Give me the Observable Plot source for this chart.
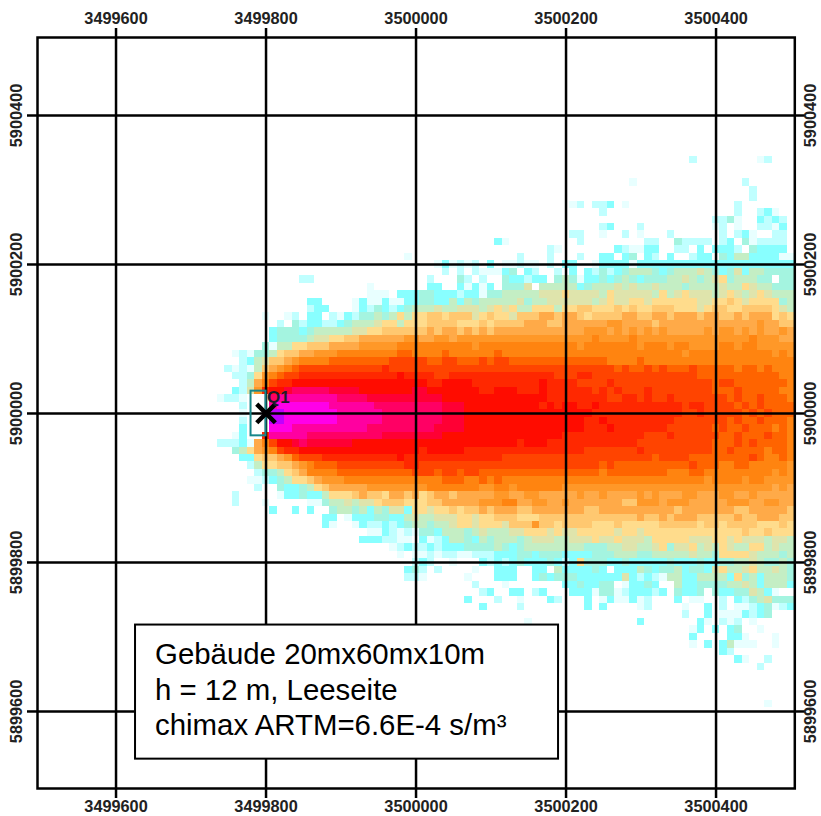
<!DOCTYPE html>
<html>
<head>
<meta charset="utf-8">
<style>html,body{margin:0;padding:0;background:#fff}svg{display:block}</style>
<script src="https://cdn.jsdelivr.net/npm/d3@7"></script>
<script src="https://cdn.jsdelivr.net/npm/@observablehq/plot@0.6"></script>
</head>
<body>
<div id="chart"></div>
<script>
const xTicks = [3499600, 3499800, 3500000, 3500200, 3500400];
const yTicks = [5899600, 5899800, 5900000, 5900200, 5900400];
const classKeys = ["a","b","c","d","e","f","g","h","i","j","k","l","m","n","o","t","p","q","r","s"];
const classColors = ["#e8ffff","#c0ffff","#88ffff","#a4f4e0","#c4eec4","#dfe4ac","#ffdc8c","#ffc870","#ffaa48","#ff9828","#ff8410","#ff6400","#ff4400","#ff2800","#ff0c00","#ff0034","#ff0064","#ff00a0","#ff00e8","#c000ff"];
const cellSize = 10;
const firstColumnX = 3499740;
// Block starts, in columns from firstColumnX: one block of 6 cells, then blocks of 10, then the last cell.
const blockStarts = [0, 6, 16, 26, 36, 46, 56, 66, 76];
const topRowY = 5900340;
const rowBlocks = [
/* 340*/ "...... .......... .......... .......... .......... .......... .......b.. ......ab.. .",
/* 330*/ "",
/* 320*/ "",
/* 310*/ "...... .......... .......... .......... .......... .........a .......... ....b..... .",
/* 300*/ "...... .......... .......... .......... .......... .......... .......... .....b.... .",
/* 290*/ "...... .......... .......... .......... .......... .......... .......... .....b.... .",
/* 280*/ "...... .......... .......... .......... .......... .ab.bbc.a. .......... ...b...... .",
/* 270*/ "...... .......... .......... .......... .......... .....b.... .......... ...b..bca. .",
/* 260*/ "...... .......... .......... .......... .......... .......... .......... bbda..cbcb .",
/* 250*/ "...... .......... .......... .......... .......... .....bc... b......... ab.a..bbac .",
/* 240*/ "...... .......... .......... .......... .......... .bb..a..b. a...b..... .b.bca..bb .",
/* 230*/ "...... .......... .......... .......... .ca....... ..b....... .bb..dbbbb .bc.dabbbb .",
/* 220*/ "...... .......... .......... .......... ........ba .......cba acc..bb.c. cccb.dcccc .",
/* 210*/ "...... .......... .........a .......... ....b...b. ..b..cc.cd .cb.c..bcc .dceecccca a",
/* 200*/ "...... .......... .......... ...acabab. c.aabaa.b. cc..acccca cccccccccc cccccccccc c",
/* 190*/ "...... .......... .......... ....b.b.ba aacd.cb..b .c.cbdbcde eedcdeeefe dcdfceeddd d",
/* 180*/ "...... .....bb... .......... ..b...db.b ..dccbcc.d edaccdcded cdddeefede fgdeeedd.d d",
/* 170*/ "...... .......... ....a..... ..cc..caca c.dddf.eee eecdeeefef eefeeedeee efeegfeedd d",
/* 160*/ "...... .......... ....aaa.cc cddcccbcca ddeeeeefff gffffegfff ffegefgfff efgfefgfee e",
/* 150*/ "...... ......cc.. ..acaacaac cddccecede eeeefdeeff ffffefgffg gfggggggff gghgfggggd e",
/* 140*/ "...... ......bcc. ..acbdcbcd eeefeefffe fgfgeeggge gghhggghgh gghhhgggfg hhgghhhhgf e",
/* 130*/ "...... a..ab.cc.b acbddedege gghhghhhfg hggfhhhiih iihghhhhii hhiihiiihi ihhihiiigh g",
/* 120*/ "...... ..b.dbccbb cdeeefggeg gghhhhgggh ghhhhiiihh iiiiiijjii iihiiiiiii iiiiiijiih h",
/* 110*/ "...... .cdddcdeee eeffgghhhh hhihiihihi hiiiiiiiii iiijjjijij ijijiiiiij ijjijijiij i",
/* 100*/ "...... .cddddeffg ghhiiiiiij jiijjijjjj jjjjjjjjjj jjjjkjjjjk jjjjjjjjjj jjjjjkjjji i",
/*  90*/ "...... daeegghhhi iiijjjjjkk kkkkkkkkjk kkkkkkkkkk kkjkkkkkkk jkkkjkkjjj jkkjkkjjjj j",
/*  80*/ "..abad deghhiijjj kkkkkkkkll kkkklkkkkk klkkkkkkkk kkkkkkkkkk kkkkkkjkkk kkkkkkkkjk j",
/*  70*/ "...bce fhhijkkkkl lllllllmmm mmllmmlllm lmmlllllll llllllkkkk lkkkkkkkkk kkkkkkkkkk k",
/*  60*/ ".babae hijklmmmmm mmmmmmnmmm mmmmmmmmmm mmmmmmmmmm mmmmmmmlml lmlmlllmll lllkllklkk k",
/*  50*/ "..bbdg jklmmnnnnn nnnnnnnnon nnnmmnnnnn nnnnnnnnnm mmnnmmmmmm mmmmmmmmll lllllllllk k",
/*  40*/ "...bei kmnnoooooo oooooooooo oonnoooonn nnnnnnnonn nnmmmmnmmm mmmmmmmmmm lmmlllllll k",
/*  30*/ "..cbfj nootpppppt tttooooooo ttooooooon nooonnnonn nnnnmnmnmm mnmmmmmmmm lllmlllllk k",
/*  20*/ "abba.. .pqqqqqqqq pppptttttt ttttoooooo oooooooonn nnnnnnmmnn mnmmnmmmmm mmlmllmlll k",
/*  10*/ "...b.. .qrrrrrrrq qqqqqppppp pppptttooo ooooooonon oonnonnnnn nnnnnnmnnm mmmlmlmlll l",
/*   0*/ "...a.. .ssrrrrrrr qqqqqqpppp pppptttooo oooooooooo oooonnnnnn nnnnnnmmnm mmmmlmlmll l",
/* -10*/ "...b.. .ssrrrrrrr qqqqqqpppp pppptttooo oooooooooo ooonnonnnn nnnnnmmmmm mmlmllmlll k",
/* -20*/ "...c.. .rrrqqqqqq qqqqppppppt pppttttooo oooooooooo ooonnnonnn nnnnmmmmmm lmllmlllkl k",
/* -30*/ "..ac.. nqqqqqpppp pppppptttt ttttoooooo oooooooooo nnnnnnnnnn nmmmnmmmmm mllmlllmll k",
/* -40*/ "bbbcai kmootptttt ttoooooooo oooooooooo oooonooonn nnnnnnnnnn mmmmmmmmmm lllmlmllll k",
/* -50*/ "..degi jkmnnooooo oooooooooo onooooonnn nnnnnnnnnn nnnmmmmmmm nmmmmmmmmm llmllllkll k",
/* -60*/ "...ccg hhijlmmmnn nnnnnnnnon nnnnnnnnnn nnmmmmmmmm mmmmmmmmmm mmlmmmmlll lllllmlkkl k",
/* -70*/ "....be gghhijklll mmmmmmmmmn nmmmmmmmmm mmmmmmmmmm mmmmmlmlll lllllllmll lkkllkkkkk j",
/* -80*/ ".....b ddeghikkkk llllllllll mmmlmmlmml llllllllll lllllkllll llllkkkllk kkkkkkkkjk j",
/* -90*/ "....aa bcdegghijj jkkkkkkkkk kkkklllkkl klkkkkkkkk kkkkkkkkkk kkkkkkkkkj kkkkjkkjjj j",
/*-100*/ ".....b ..dccdeghi iiiijjjjjj jjkkkkkkkj jkkjkkkkkk jjjjjjjjjj jjjjjjjjjj jjjjjjjjij i",
/*-110*/ "..b... ..accdcceg gghihhgiih ighiihiiii ijjiijjiii iijiijiiii jijiiijjii ijjiijiiii i",
/*-120*/ "..b... a.....aade efeffghhhg gghhiiiiij jjkkiijjii jiiiiiiihh jjjijjjiii iijjjiijji i",
/*-130*/ "...... .c..c.c..d eedecedffc ggfgghghhi hiiihhiiii iiihhiiiii iiiiihiiii iiihhiiiii h",
/*-140*/ "...... ........cc .acccddcce feefffggfg ghhhggghhh hhhhhhhhhh ihhihiiihh hhhihhiiih h",
/*-150*/ "...... ........ca ..acbbcbcd eedeefggfg ggfhhhjhhg hhhhggghgg ggghhhhhgh hghhhhgggh g",
/*-160*/ "...... .......... ....aacbab addceeedef eeeffgggfg ffgggggfgg fggggggggg gggghgghgg g",
/*-170*/ "...... .......... ...cccbbaa .cabceedce deeedefffe efffgffgff fegggggfff ggfgfffeff e",
/*-180*/ "...... .......... .......abc bbcbcccddd dedcdeeeee eeedddeeff eefgdffgef egfeeggefe e",
/*-190*/ "...... .......... ........a. aababbaabb bcccddcddd ccccdddeee ddeeeeefee dggggfeeed e",
/*-200*/ "...... .......... .......... bcb..a...c bcbcdcccdc bcgdddccdc ccccdcccdc cddeefedde d",
/*-210*/ "...... .......... .........c db.b....a. .ccc..cc.e ccccdc.ccc edcddecddc fgeefgeefe d",
/*-220*/ "...... .......... .........b ba.....a.. .ccc..cdcd ddccccccfc bcbaeeccee eecgdeceee d",
/*-230*/ "...... .......... .......... ........b. ..a....... ccdccdd.ac cdc..eccdd ddeefeceee c",
/*-240*/ "...... .......... .......... .........b c..cc.bc.. .cccaddabc ccbc.dccd. dccddfeca. .",
/*-250*/ "...... .......... .......... .......c.. .b..a...cb ...c.acaac ab...c.aa. .b.cbdefdd d",
/*-260*/ "...... .......... .......... .........c ....b..... ...c.c.... ab....a..c .b.aabcdab c",
/*-270*/ "...... .......... .......... .......... .......... .......... ......b..c .aaacbcd.. .",
/*-280*/ "...... .......... .......... .......... .....a.... .......... c.......ca .bab.a.... .",
/*-290*/ "...... .......... .......... .......... .......... .......... .......ac. c.cd..a... .",
/*-300*/ "...... .......... .......... .......... .......... .......... .......c.. ..cca...a. .",
/*-310*/ "...... .......... .......... .......... .......... .......... .......a.c .ceaaa..a. .",
/*-320*/ "...... .......... .......... .......... .......... .......... .......... .cb....... .",
/*-330*/ "...... .......... .......... .......... .......... .......... .......... ...ca..b.. .",
/*-340*/ "...... .......... .......... .......... .......... .......... .......... ......b... .",
/*-350*/ "",
/*-360*/ "",
/*-370*/ "",
/*-380*/ "",
/*-390*/ "...... .......... .......... .......... .......... .......... .......... .......a.. ."
];
const buildingX = [3499780, 3499800];
const buildingY = [5899970, 5900030];
const source = {x: 3499800, y: 5900000, label: "Q1"};
const noteBoxX = [3499626, 3500190];
const noteBoxY = [5899536, 5899716];
const noteX = 3499652;
const noteLines = ["Gebäude 20mx60mx10m", "h = 12 m, Leeseite", "chimax ARTM=6.6E-4 s/m³"];
const noteLineY = [5899676, 5899628, 5899581];

const cells = [];
rowBlocks.forEach((row, i) => {
  const y = topRowY - i * cellSize;
  row.split(" ").forEach((block, b) => {
    [...block].forEach((c, j) => {
      if (c !== ".") cells.push({x: firstColumnX + (blockStarts[b] + j) * cellSize, y, c});
    });
  });
});
const notes = noteLines.map((t, i) => ({t, y: noteLineY[i]}));
const lineWidth = 2.5;
const tickStyle = {label: null, fontSize: 16.3, fontWeight: "bold", fill: "#222", tickFormat: d => String(d), stroke: "#000", strokeWidth: lineWidth};

const chart = Plot.plot({
  width: 821, height: 816,
  marginLeft: 37, marginRight: 26.7, marginTop: 37, marginBottom: 28,
  style: {fontFamily: "'Liberation Sans', Arial, sans-serif", background: "#fff", overflow: "visible"},
  x: {domain: [3499495.3, 3500505], axis: null},
  y: {domain: [5899496.6, 5900504.7], axis: null},
  color: {type: "ordinal", domain: classKeys, range: classColors},
  marks: [
    Plot.rect(cells, {x1: d => d.x - cellSize / 2, x2: d => d.x + cellSize / 2, y1: d => d.y - cellSize / 2, y2: d => d.y + cellSize / 2, fill: "c", shapeRendering: "crispEdges"}),
    Plot.ruleX(xTicks, {stroke: "#000", strokeWidth: lineWidth}),
    Plot.ruleY(yTicks, {stroke: "#000", strokeWidth: lineWidth}),
    Plot.rect([0], {x1: buildingX[0], x2: buildingX[1], y1: buildingY[0], y2: buildingY[1], fill: "none", stroke: "#17868a", strokeWidth: 2}),
    Plot.dot([source], {x: "x", y: "y", symbol: "times", r: 8.5, stroke: "#000", strokeWidth: 4.5}),
    Plot.text([source], {x: "x", y: "y", text: "label", dx: 1, dy: -16, textAnchor: "start", fontSize: 17, fontWeight: "bold", fill: "#1c1c2a"}),
    Plot.axisX({anchor: "top", ticks: xTicks, tickSize: 10, tickPadding: 4, ...tickStyle}),
    Plot.axisX({anchor: "bottom", ticks: xTicks, tickSize: 10, tickPadding: 2, ...tickStyle}),
    Plot.axisY({anchor: "left", ticks: yTicks, tickSize: 10, tickPadding: 6, tickRotate: -90, textAnchor: "middle", ...tickStyle}),
    Plot.axisY({anchor: "right", ticks: yTicks, tickSize: 10, tickPadding: 11, tickRotate: -90, textAnchor: "middle", ...tickStyle}),
    Plot.frame({stroke: "#000", strokeWidth: lineWidth}),
    Plot.rect([0], {x1: noteBoxX[0], x2: noteBoxX[1], y1: noteBoxY[0], y2: noteBoxY[1], fill: "#fff", stroke: "#000", strokeWidth: 2}),
    Plot.text(notes, {x: noteX, y: "y", text: "t", textAnchor: "start", fontSize: 29.4, fill: "#000"})
  ]
});
document.getElementById("chart").append(chart);
</script>
</body>
</html>
